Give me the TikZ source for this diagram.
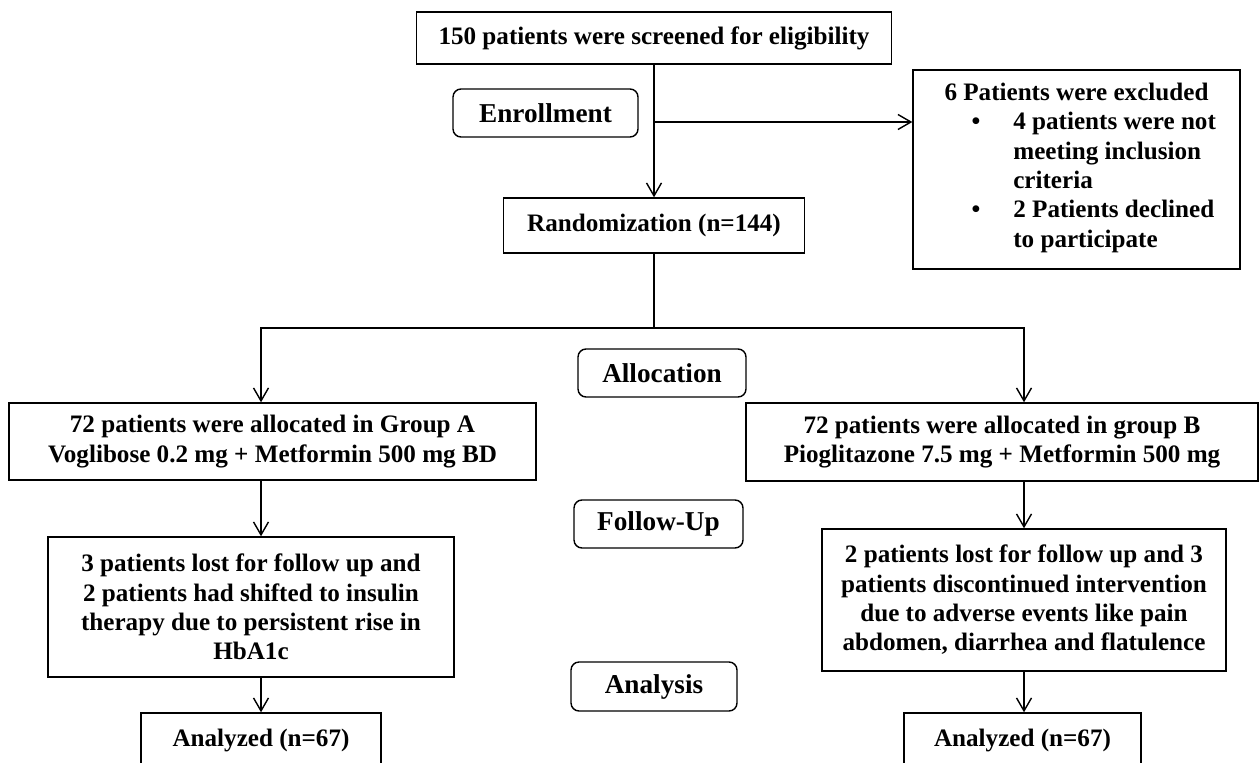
\documentclass[tikz,border=0pt]{standalone}
\usepackage{fontspec}
\setmainfont{Liberation Serif}
\usetikzlibrary{arrows.meta}
\newcommand{\flowbox}[6] {
    \node[box,minimum width={#4*0.02cm},minimum height={#5*0.02cm}] (#1) at ({#2}, {#3}) {#6};
}
\begin{document}
\begin{tikzpicture}[
        x=0.02cm, y=-0.02cm,
        line width=0.8pt,
        box/.style={
            draw,
            line width=0.8pt,
            align=center,
            inner sep=0mm,
            font=\fontsize{14.3}{16.7}\selectfont\bfseries
        },
        stage/.style={box,rounded corners=1.6mm,font=\fontsize{15.5}{18}\selectfont\bfseries},
        arr/.style={-{Straight Barb[length=2.6mm,width=3mm]}}
    ]
        \useasboundingbox (0,0) rectangle (1260,763);
        \clip (0,0) rectangle (1260,763);
        \flowbox{screen}{654}{38}{475}{52}{150 patients were screened for eligibility}
        \flowbox{random}{654}{225.5}{301}{55}{Randomization (n=144)}
        \node[box,text width=6cm,align=left,minimum width=6.54cm,minimum height=3.98cm] (excl) at (1076.5,169.5) {%
            \spaceskip=0pt\xspaceskip=0pt%
            {\centering 6 Patients were excluded\par}%
            \noindent\hspace*{0.9cm}\begin{tabular}[t]{@{}l@{\hspace{0.66cm}}l@{}}
                \textbullet & 4 patients were not\\
                            & meeting inclusion\\
                            & criteria\\
                \textbullet & 2 Patients declined\\
                            & to participate
            \end{tabular}\par};
        \flowbox{grpA}{272.5}{441.5}{527}{77}{72 patients were allocated in Group A\\Voglibose 0.2 mg + Metformin 500 mg BD}
        \flowbox{grpB}{1002}{442}{512}{78}{72 patients were allocated in group B\\Pioglitazone 7.5 mg + Metformin 500 mg}
        \flowbox{lostA}{251}{607}{406}{140}{3 patients lost for follow up and\\2 patients had shifted to insulin\\therapy due to persistent rise in\\HbA1c}
        \flowbox{lostB}{1024}{600}{404}{142}{2 patients lost for follow up and 3\\patients discontinued intervention\\due to adverse events like pain\\abdomen, diarrhea and flatulence}
        \flowbox{anaA}{261}{740}{240}{54}{Analyzed (n=67)}
        \flowbox{anaB}{1022.5}{740}{237}{54}{Analyzed (n=67)}
        % stage labels
        \node[stage,minimum width=3.7cm,minimum height=0.96cm] (enroll) at (545.5,113) {Enrollment};
        \node[stage,minimum width=3.36cm,minimum height=0.96cm] (alloc) at (662,373) {Allocation};
        \node[stage,minimum width=3.38cm,minimum height=0.96cm] (follow) at (658.5,524) {Follow-Up};
        \node[stage,minimum width=3.32cm,minimum height=0.98cm] (analysis) at (654,686.5) {Analysis};
        % connectors
        \coordinate (tap) at (654,122);
        \coordinate (fork) at (654,328);
        \draw[arr] (screen.south) -- (random.north);
        \draw[arr] (tap) -- (tap -| excl.west);
        \draw (random.south) -- (fork);
        \draw[arr] (fork) -| (grpA.north -| anaA.north);
        \draw[arr] (fork) -| (grpB.north -| lostB.north);
        \draw[arr] (grpA.south -| anaA.north) -- (lostA.north -| anaA.north);
        \draw[arr] (lostA.south -| anaA.north) -- (anaA.north);
        \draw[arr] (grpB.south -| lostB.north) -- (lostB.north);
        \draw[arr] (lostB.south) -- (lostB.south |- anaB.north);
    \end{tikzpicture}
\end{document}
